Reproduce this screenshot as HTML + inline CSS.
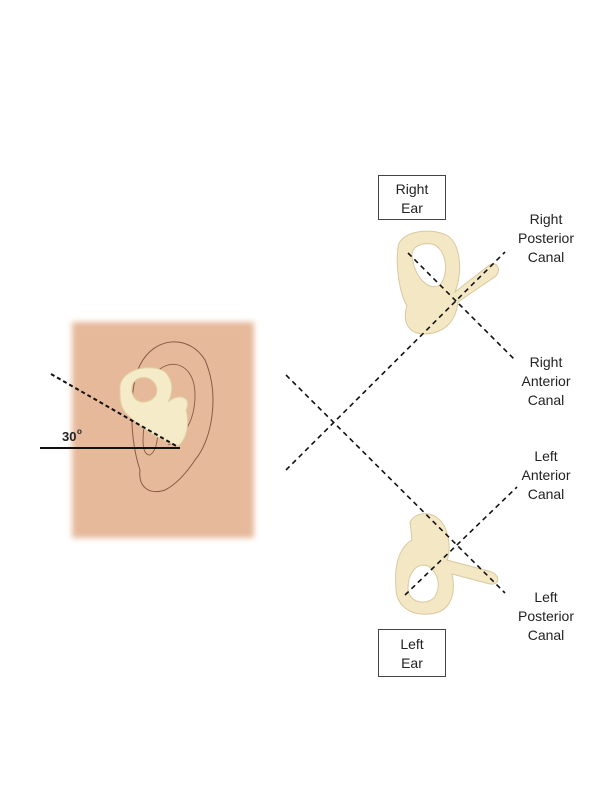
<!DOCTYPE html>
<html><head><meta charset="utf-8"><style>
html,body{margin:0;padding:0;background:#fff;}
svg{display:block}
text{font-family:"Liberation Sans",sans-serif;fill:#222}
</style></head><body>
<svg width="612" height="792" viewBox="0 0 612 792">
<defs>
<filter id="blur" x="-10%" y="-10%" width="120%" height="120%"><feGaussianBlur stdDeviation="3"/></filter>
</defs>
<rect x="72" y="322" width="182" height="216" fill="#e6b99b" filter="url(#blur)"/>
<path d="M140 470 C130 440 128 390 140 365 C155 335 190 335 205 360 C220 395 212 440 195 460 C185 475 175 485 165 490 C150 495 138 488 140 470" fill="none" stroke="#8a5a45" stroke-width="1"/>
<path d="M150 380 C165 355 195 360 195 395 C195 425 180 440 168 445" fill="none" stroke="#8a5a45" stroke-width="0.9"/>
<path d="M148 410 C142 430 140 455 150 455 C158 450 160 430 155 410" fill="none" stroke="#8a5a45" stroke-width="0.9"/>
<!-- small inner ear: loop + body -->
<g fill="#f6ebc8" stroke="#e0d2a5" stroke-width="1" fill-rule="evenodd">
<path d="M120 390 C118 370 150 362 165 372 C175 382 172 395 168 402 C180 392 192 398 186 410 C190 425 186 440 178 446 C160 440 140 428 125 412 C120 405 120 398 120 390 Z M132 392 C134 405 150 405 156 395 C160 385 150 375 140 378 C133 380 131 386 132 392 Z"/>
</g>
<line x1="40" y1="448" x2="180" y2="448" stroke="#111" stroke-width="2"/>
<line x1="51" y1="374" x2="178" y2="447" stroke="#111" stroke-width="2" stroke-dasharray="4,3"/>
<text x="62" y="441" font-size="13" font-weight="bold">30</text>
<text x="77" y="434" font-size="8" font-weight="bold">o</text>
<!-- right inner ear -->
<g fill="#f3e7c4" stroke="#d9c9a0" stroke-width="1" fill-rule="evenodd">
<path d="M398 248 C398 232 430 226 448 236 C462 246 462 275 455 292 L488 266 C496 260 502 268 496 276 L458 302 C456 320 446 333 425 334 C408 334 402 322 407 306 C398 290 396 262 398 248 Z M412 256 C414 276 428 292 440 285 C450 272 446 248 432 244 C420 242 411 248 412 256 Z"/>
</g>
<!-- left inner ear -->
<g fill="#f3e7c4" stroke="#d9c9a0" stroke-width="1" fill-rule="evenodd">
<path d="M410 522 C418 508 440 512 446 530 C450 542 450 552 447 560 L492 572 C501 577 499 585 490 584 L452 574 C456 592 452 612 430 614 C408 616 396 604 396 588 C394 568 398 548 412 540 Z M408 588 C408 602 424 606 434 598 C442 586 438 572 428 566 C416 562 408 574 408 588 Z"/>
</g>
<g stroke="#111" stroke-width="1.6" stroke-dasharray="5,4" fill="none">
<line x1="286" y1="470" x2="505" y2="252"/>
<line x1="286" y1="375" x2="505" y2="593"/>
<line x1="408" y1="253" x2="514" y2="359"/>
<line x1="405" y1="595" x2="517" y2="487"/>
</g>
<rect x="378.5" y="175.5" width="67" height="44" fill="#fff" stroke="#444"/>
<text x="412" y="194" font-size="14" text-anchor="middle">Right</text>
<text x="412" y="213" font-size="14" text-anchor="middle">Ear</text>
<rect x="378.5" y="629.5" width="67" height="47" fill="#fff" stroke="#444"/>
<text x="412" y="649" font-size="14" text-anchor="middle">Left</text>
<text x="412" y="668" font-size="14" text-anchor="middle">Ear</text>
<g font-size="14" text-anchor="middle">
<text x="546" y="224">Right</text><text x="546" y="243">Posterior</text><text x="546" y="262">Canal</text>
<text x="546" y="367">Right</text><text x="546" y="386">Anterior</text><text x="546" y="405">Canal</text>
<text x="546" y="461">Left</text><text x="546" y="480">Anterior</text><text x="546" y="499">Canal</text>
<text x="546" y="602">Left</text><text x="546" y="621">Posterior</text><text x="546" y="640">Canal</text>
</g>
</svg>
</body></html>
